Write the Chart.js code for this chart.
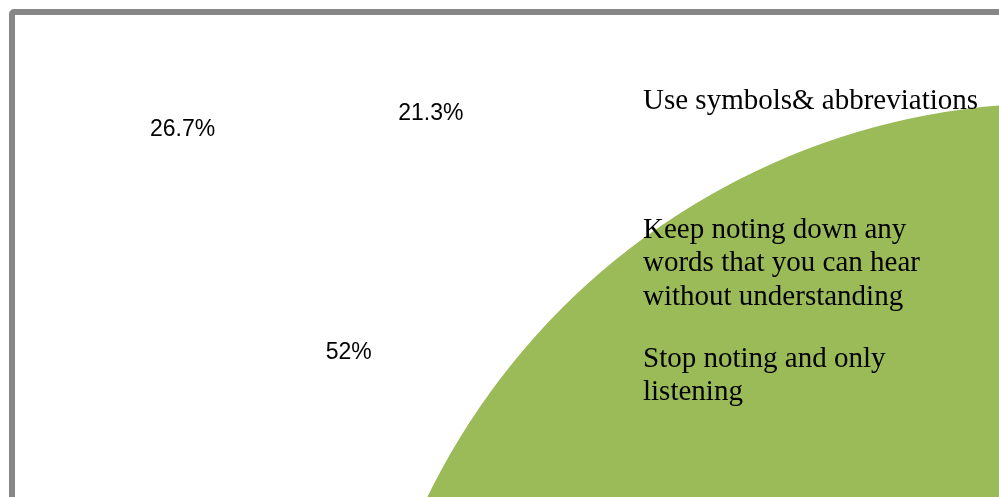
<!DOCTYPE html>
<html lang="en">
  <head>
    <meta charset="UTF-8" />
    <title>Note taking while listening</title>
    <script src="https://cdn.jsdelivr.net/npm/chart.js"></script>
    <style>
      * {
        margin: 0;
        padding: 0;
        box-sizing: border-box;
      }

      body {
        background-color: #ffffff;
        overflow: hidden;
      }

      .page {
        position: relative;
        width: 999px;
        height: 497px;
        overflow: hidden;
      }

      /* grey chart border, only top-left corner is in view */
      .frame {
        position: absolute;
        left: 9px;
        top: 9px;
        width: 2000px;
        height: 2000px;
        border: 6px solid #878787;
        border-radius: 5px;
      }

      #pie-chart {
        position: absolute;
        left: 0;
        top: 0;
      }
    </style>
  </head>
  <body>
    <div class="page">
      <div class="frame"></div>
      <canvas id="pie-chart" width="1780" height="1520"></canvas>
    </div>

    <script>
      // chart data
      const categories = [
        ["Use symbols& abbreviations"],
        ["Keep noting down any", "words that you can hear", "without understanding"],
        ["Stop noting and only", "listening"],
      ];
      const percentages = [21.3, 52, 26.7];
      const sliceColors = ["#4f81bd", "#c0504d", "#9bbb59"];

      // percentage labels, placed around their slice's middle angle
      const sliceLabels = {
        id: "sliceLabels",
        afterDraw(chart) {
          const ctx = chart.ctx;
          const arcs = chart.getDatasetMeta(0).data;
          ctx.save();
          ctx.font = "23px 'Liberation Sans', Arial, sans-serif";
          ctx.fillStyle = "#000000";
          ctx.textAlign = "center";
          ctx.textBaseline = "middle";
          arcs.forEach(function (arc, i) {
            const mid = (arc.startAngle + arc.endAngle) / 2;
            const x = 318 + 182 * Math.cos(mid);
            const y = 220 + 135 * Math.sin(mid);
            ctx.fillText(percentages[i] + "%", x, y);
          });
          ctx.restore();
        },
      };

      // legend text without colour keys, wrapped lines from the category arrays
      const textLegend = {
        id: "textLegend",
        afterDraw(chart) {
          const ctx = chart.ctx;
          ctx.save();
          ctx.font = "29px 'Liberation Serif', 'Times New Roman', serif";
          ctx.fillStyle = "#000000";
          ctx.textAlign = "left";
          ctx.textBaseline = "middle";
          categories.forEach(function (lines, i) {
            lines.forEach(function (line, j) {
              ctx.fillText(line, 643, 101 + 129 * i + 33.5 * j);
            });
          });
          ctx.restore();
        },
      };

      const ctx = document.getElementById("pie-chart").getContext("2d");
      new Chart(ctx, {
        type: "pie",
        data: {
          labels: categories,
          datasets: [
            {
              data: percentages,
              backgroundColor: sliceColors,
              borderWidth: 0,
              hoverBorderWidth: 0,
            },
          ],
        },
        options: {
          responsive: false,
          animation: false,
          events: [],
          layout: {
            padding: { left: 357, top: 103, right: 23, bottom: 17 },
          },
          plugins: {
            legend: { display: false },
            tooltip: { enabled: false },
          },
        },
        plugins: [sliceLabels, textLegend],
      });
    </script>
  </body>
</html>
